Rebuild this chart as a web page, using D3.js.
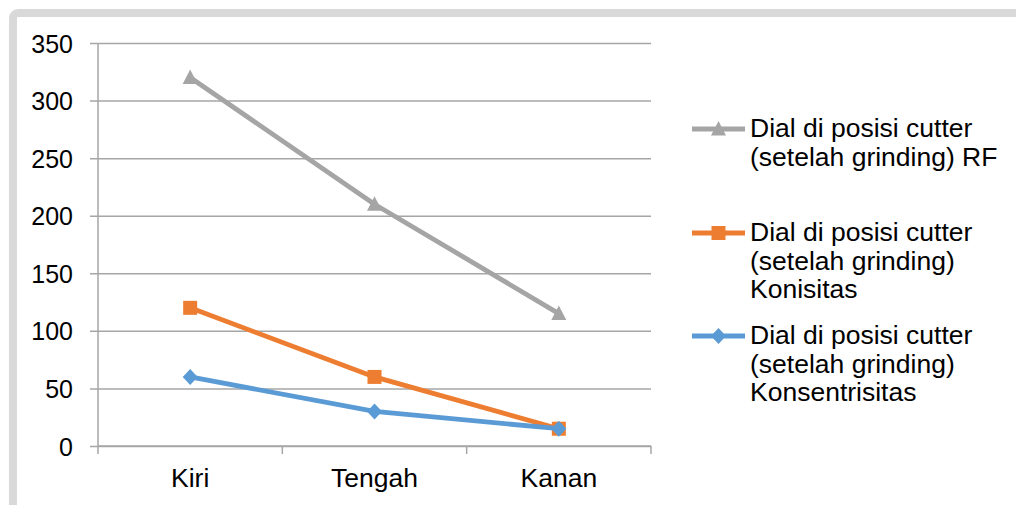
<!DOCTYPE html>
<html>
<head>
<meta charset="utf-8">
<script src="https://cdn.jsdelivr.net/npm/d3@7"></script>
<style>
  html, body { margin: 0; padding: 0; background: #fff; }
  svg { display: block; }
  text { font-family: "Liberation Sans", Arial, sans-serif; fill: #000; }
</style>
</head>
<body>
<svg id="chart" width="1016" height="505"></svg>
<script>
// ---- data ----
const categories = ["Kiri", "Tengah", "Kanan"];
const yTicks = [0, 50, 100, 150, 200, 250, 300, 350];
const seriesRF = [320, 210, 115];
const seriesKonisitas = [120, 60, 15];
const seriesKonsentrisitas = [60, 30, 15];
const legendRF = ["Dial di posisi cutter", "(setelah grinding) RF"];
const legendKonisitas = ["Dial di posisi cutter", "(setelah grinding)", "Konisitas"];
const legendKonsentrisitas = ["Dial di posisi cutter", "(setelah grinding)", "Konsentrisitas"];

const series = [
  { values: seriesRF, legend: legendRF, color: "#a5a5a5", marker: "triangle" },
  { values: seriesKonisitas, legend: legendKonisitas, color: "#ed7d31", marker: "square" },
  { values: seriesKonsentrisitas, legend: legendKonsentrisitas, color: "#5b9bd5", marker: "diamond" }
];

// ---- layout ----
const svg = d3.select("#chart");
const plot = { left: 98, right: 651, top: 43, bottom: 446 };
const gridColor = "#a6a6a6";

// frame
svg.append("rect")
  .attr("x", 13).attr("y", 13)
  .attr("width", 1100).attr("height", 600)
  .attr("rx", 5)
  .attr("fill", "none")
  .attr("stroke", "#d9d9d9")
  .attr("stroke-width", 8);

const x = d3.scaleBand().domain(categories).range([plot.left, plot.right]);
const y = d3.scaleLinear().domain([0, 350]).range([plot.bottom, plot.top]);

// gridlines + y axis
const yAxis = d3.axisLeft(y).tickValues(yTicks).tickSize(-(plot.right - plot.left)).tickPadding(25).tickFormat(d3.format("d"));
const gy = svg.append("g").attr("transform", `translate(${plot.left},0)`).call(yAxis);
gy.select(".domain").remove();
gy.selectAll(".tick line")
  .attr("x1", -8)
  .attr("stroke", gridColor).attr("stroke-width", 1.5);
gy.selectAll(".tick text")
  .style("font-size", "25px").style("font-family", "'Liberation Sans', Arial, sans-serif")
  .attr("fill", "#000").attr("dy", "0.36em");

// y axis line
svg.append("line")
  .attr("x1", plot.left).attr("x2", plot.left)
  .attr("y1", plot.top).attr("y2", plot.bottom)
  .attr("stroke", gridColor).attr("stroke-width", 1.5);

// x axis line + ticks
svg.append("line")
  .attr("x1", plot.left).attr("x2", plot.right)
  .attr("y1", plot.bottom).attr("y2", plot.bottom)
  .attr("stroke", gridColor).attr("stroke-width", 1.5);
const tickXs = categories.map(c => x(c)).concat([plot.right]);
svg.selectAll(".xtick").data(tickXs).enter().append("line")
  .attr("x1", d => d).attr("x2", d => d)
  .attr("y1", plot.bottom).attr("y2", plot.bottom + 8)
  .attr("stroke", gridColor).attr("stroke-width", 1.5);
svg.selectAll(".xlabel").data(categories).enter().append("text")
  .attr("x", d => x(d) + x.bandwidth() / 2)
  .attr("y", 487)
  .attr("text-anchor", "middle")
  .style("font-size", "26.5px")
  .text(d => d);

function markerPath(m) {
  if (m === "triangle") return "M0,-8L7.5,6.5L-7.5,6.5Z";
  if (m === "square") return "M-7,-7H7V7H-7Z";
  return "M0,-8L7.5,0L0,8L-7.5,0Z";
}

const line = d3.line()
  .x((d, i) => x(categories[i]) + x.bandwidth() / 2)
  .y(d => y(d));

series.forEach(s => {
  svg.append("path")
    .attr("d", line(s.values))
    .attr("fill", "none")
    .attr("stroke", s.color)
    .attr("stroke-width", 4.8)
    .attr("stroke-linejoin", "round");
  svg.selectAll(null).data(s.values).enter().append("path")
    .attr("transform", (d, i) => `translate(${x(categories[i]) + x.bandwidth() / 2},${y(d)})`)
    .attr("d", markerPath(s.marker))
    .attr("fill", s.color);
});

// legend
const legendItemY = [129, 233, 336];
const lineHeight = 28.5;
series.forEach((s, k) => {
  const g = svg.append("g").attr("transform", `translate(0,${legendItemY[k]})`);
  g.append("line").attr("x1", 692).attr("x2", 745).attr("y1", 0).attr("y2", 0)
    .attr("stroke", s.color).attr("stroke-width", 4.8);
  g.append("path").attr("transform", "translate(718.5,0)").attr("d", markerPath(s.marker)).attr("fill", s.color);
  g.selectAll("text").data(s.legend).enter().append("text")
    .attr("x", 750)
    .attr("y", (d, i) => 8 + i * lineHeight)
    .style("font-size", "26.5px")
    .text(d => d);
});
</script>
</body>
</html>
